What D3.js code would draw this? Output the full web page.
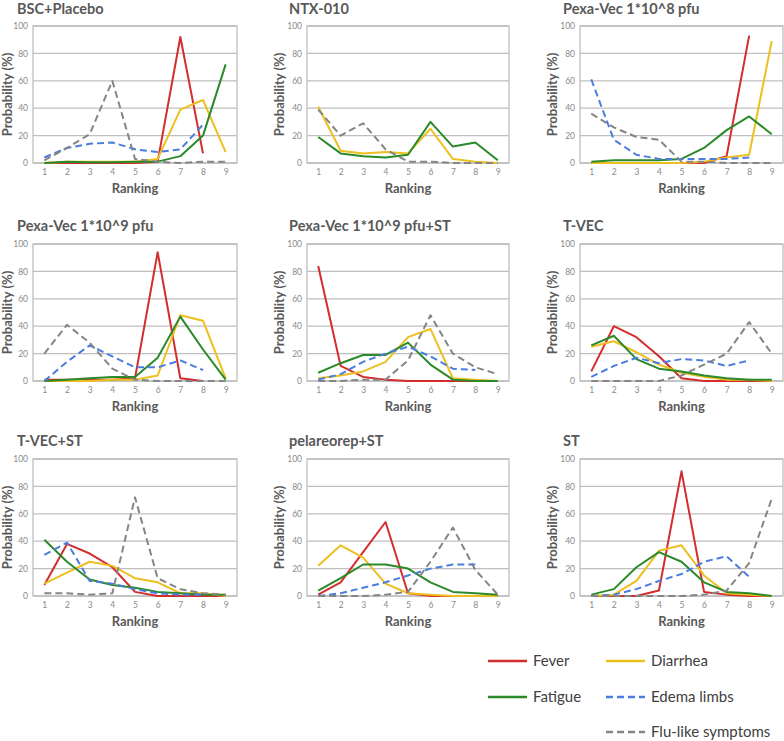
<!DOCTYPE html>
<html><head><meta charset="utf-8">
<script src="https://cdn.jsdelivr.net/npm/d3@7/dist/d3.min.js"></script>
<style>
html,body{margin:0;padding:0;background:#fff;}
svg{display:block;}
</style>
</head><body>
<svg id="chart" width="784" height="741"></svg>
<script>
// ---- data ----
const ranks = [1,2,3,4,5,6,7,8,9];
const yTicks = [0,20,40,60,80,100];
const titles = ["BSC+Placebo","NTX-010","Pexa-Vec 1*10^8 pfu","Pexa-Vec 1*10^9 pfu","Pexa-Vec 1*10^9 pfu+ST","T-VEC","T-VEC+ST","pelareorep+ST","ST"];
const seriesNames = ["Fever","Diarrhea","Fatigue","Edema limbs","Flu-like symptoms"];
const N = null;
const fever = [
  [0,0,0,0,0,1,92,7,N],
  [N,N,N,N,N,N,N,N,N],
  [0,0,0,0,0,0,5,93,N],
  [1,1,1,1,2,94,2,0,N],
  [84,11,3,1,0,0,0,0,0],
  [7,40,32,18,2,0,0,0,0],
  [8,38,31,21,3,0,0,0,0],
  [1,10,32,54,2,0,0,0,0],
  [0,0,0,4,91,3,1,0,0]
];
const diarrhea = [
  [0,1,1,1,1,3,39,46,8],
  [41,9,7,8,7,25,3,1,0],
  [0,0,0,0,0,1,4,6,89],
  [0,0,0,1,1,4,48,44,2],
  [2,4,7,14,32,38,2,1,0],
  [25,29,21,12,6,3,1,1,0],
  [9,17,25,22,13,10,2,2,0],
  [22,37,28,9,2,1,0,0,0],
  [0,1,11,33,37,15,2,1,0]
];
const fatigue = [
  [0,1,0.5,0.5,1,1,5,20,72],
  [19,7,5,4,6,30,12,15,2],
  [1,2,2,2,3,11,24,34,21],
  [0,1,2,3,3,17,47,23,1],
  [6,13,19,19,28,12,1,0,0],
  [26,33,16,9,7,4,2,1,1],
  [41,25,12,8,6,3,2,1,1],
  [4,13,23,23,20,10,3,2,1],
  [1,5,21,32,25,10,3,2,0]
];
const edema = [
  [4,11,14,15,10,8,10,28,N],
  [N,N,N,N,N,N,N,N,N],
  [61,17,6,3,3,3,3,4,N],
  [0,14,26,18,10,10,15,8,N],
  [1,5,14,20,25,18,9,8,N],
  [3,11,17,13,16,15,11,15,N],
  [30,39,11,9,5,2,1,1,N],
  [0,2,6,10,15,20,23,23,N],
  [0,1,5,11,16,25,29,14,N]
];
const flu = [
  [2,11,21,60,3,1,0,1,1],
  [39,20,29,10,1,1,0,0,0],
  [36,26,19,17,1,1,0,0,0],
  [20,41,28,9,1,0,0,0,0],
  [0,0,1,1,15,48,20,10,5],
  [0,0,0,0,4,12,20,43,20],
  [2,2,1,2,72,13,5,2,1],
  [0,0,0,1,3,25,50,19,1],
  [0,0,0,0,0,1,4,24,71]
];
const allSeries = [fever, diarrhea, fatigue, edema, flu];

// ---- styles ----
const colors = ["#d42d2d","#edbf1f","#2a8a2a","#4a7ddf","#858585"];
const dashes = [null,null,null,"7,4","7,4"];

const colLeft = [33,307,580], colRight = [237,509,783];
const rowTop = [26,244,459], rowBottom = [163,381,596];
const titleX = [17,289,563], titleY = [14,231,446];
const yTitleX = [8,280,553];

const svg = d3.select("#chart");
const font = "Lato, 'Open Sans', sans-serif";

titles.forEach((t,i)=>{
  const c = i%3, r = Math.floor(i/3);
  const x = d3.scalePoint().domain(ranks).range([colLeft[c],colRight[c]]).padding(0.5);
  const y = d3.scaleLinear().domain([0,100]).range([rowBottom[r],rowTop[r]]);
  const g = svg.append("g");

  // title
  g.append("text").attr("x",titleX[c]).attr("y",titleY[r])
    .attr("font-family",font).attr("font-weight","bold").attr("font-size",14.5)
    .attr("fill","#595959").text(t);

  // grid
  g.selectAll("line.grid").data(yTicks).join("line")
    .attr("x1",colLeft[c]).attr("x2",colRight[c])
    .attr("y1",d=>y(d)).attr("y2",d=>y(d))
    .attr("stroke","#bfbfbf").attr("stroke-width",1.3);
  // border
  g.append("rect").attr("x",colLeft[c]).attr("y",rowTop[r])
    .attr("width",colRight[c]-colLeft[c]).attr("height",rowBottom[r]-rowTop[r])
    .attr("fill","none").attr("stroke","#bfbfbf").attr("stroke-width",1.3);

  // y axis
  const ya = g.append("g").attr("transform",`translate(${colLeft[c]},0)`)
    .call(d3.axisLeft(y).tickValues(yTicks).tickSize(0).tickPadding(5));
  ya.select(".domain").remove();
  ya.selectAll("text").attr("font-family",font).attr("font-size",8.5).attr("fill","#8a8a8a");

  // x axis
  const xa = g.append("g").attr("transform",`translate(0,${rowBottom[r]})`)
    .call(d3.axisBottom(x).tickSize(0).tickPadding(6));
  xa.select(".domain").remove();
  xa.selectAll("text").attr("font-family",font).attr("font-size",8.5).attr("fill","#8a8a8a");

  // axis titles
  g.append("text").attr("x",(colLeft[c]+colRight[c])/2).attr("y",rowBottom[r]+30)
    .attr("text-anchor","middle").attr("font-family",font).attr("font-weight","bold")
    .attr("font-size",13).attr("fill","#595959").text("Ranking");
  g.append("text").attr("transform",`translate(${yTitleX[c]+4},${(rowTop[r]+rowBottom[r])/2}) rotate(-90)`)
    .attr("text-anchor","middle").attr("font-family",font).attr("font-weight","bold")
    .attr("font-size",13).attr("fill","#595959").text("Probability (%)");

  // lines
  allSeries.forEach((s,k)=>{
    const vals = s[i].map((v,j)=>({r:ranks[j],v}));
    const line = d3.line().defined(d=>d.v!=null).x(d=>x(d.r)).y(d=>y(d.v));
    g.append("path").datum(vals).attr("d",line)
      .attr("fill","none").attr("stroke",colors[k]).attr("stroke-width",2)
      .attr("stroke-dasharray",dashes[k]).attr("stroke-linejoin","round");
  });
});

// legend
const legendPos = [[488,661],[606,661],[488,697],[606,697],[606,732]];
seriesNames.forEach((n,k)=>{
  const [lx,ly] = legendPos[k];
  svg.append("line").attr("x1",lx).attr("x2",lx+39).attr("y1",ly).attr("y2",ly)
    .attr("stroke",colors[k]).attr("stroke-width",2.5).attr("stroke-dasharray",dashes[k]);
  svg.append("text").attr("x",lx+45).attr("y",ly).attr("dy","0.35em")
    .attr("font-family",font).attr("font-size",15).attr("fill","#404040").text(n);
});
</script>
</body></html>
